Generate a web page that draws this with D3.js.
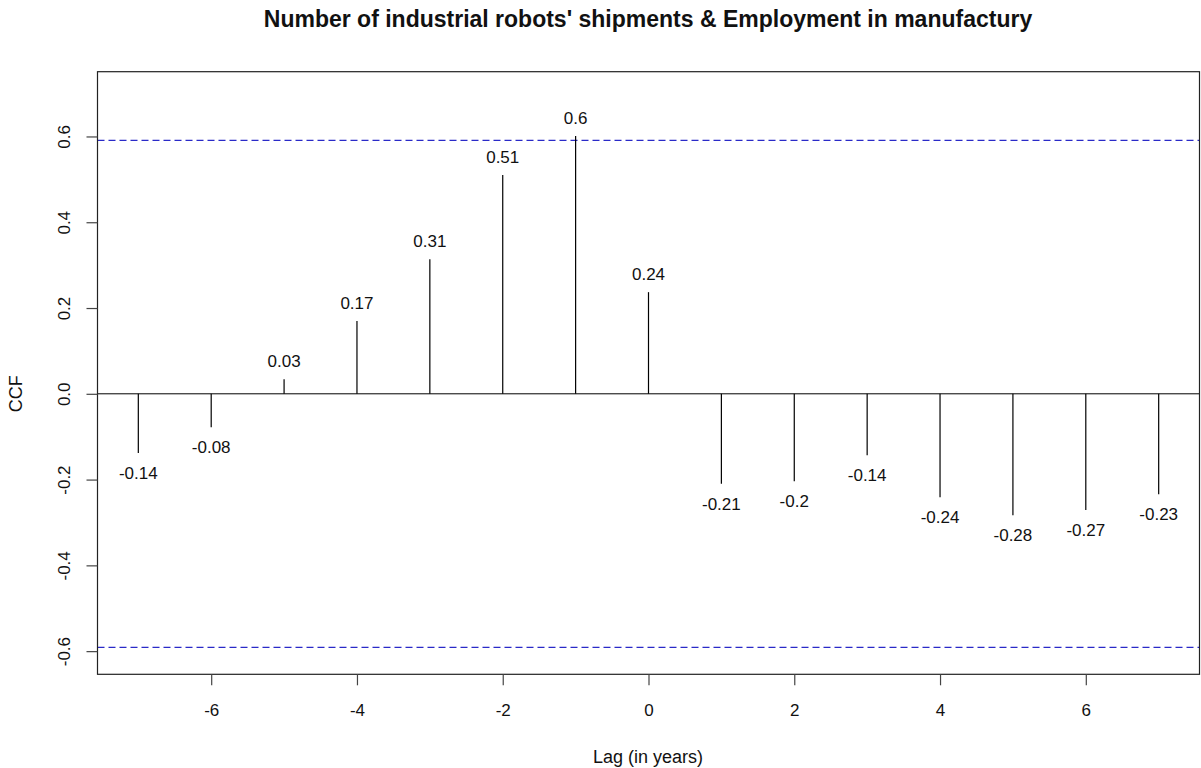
<!DOCTYPE html>
<html><head><meta charset="utf-8">
<script src="https://cdn.jsdelivr.net/npm/d3@7"></script>
<style>body{margin:0;background:#fff;} svg{display:block;font-family:"Liberation Sans",Arial,sans-serif;}</style>
</head><body>
<svg id="chart" width="1201" height="768"></svg>
<script>
const lags = [-7,-6,-5,-4,-3,-2,-1,0,1,2,3,4,5,6,7];
const ccfValues = [-0.138,-0.078,0.034,0.170,0.314,0.510,0.601,0.237,-0.210,-0.204,-0.143,-0.241,-0.283,-0.271,-0.234];
const ccfLabels = ["-0.14","-0.08","0.03","0.17","0.31","0.51","0.6","0.24","-0.21","-0.2","-0.14","-0.24","-0.28","-0.27","-0.23"];
const xTicks = [-6,-4,-2,0,2,4,6];
const yTicks = [-0.6,-0.4,-0.2,0.0,0.2,0.4,0.6];
const ciBound = 0.591;
const title = "Number of industrial robots' shipments & Employment in manufactury";
const xLabel = "Lag (in years)";
const yLabel = "CCF";

const svg = d3.select("#chart");
const L = 97.5, R = 1199.5, T = 71.7, B = 674.3;
const x = d3.scaleLinear().domain([-7.56, 7.56]).range([L, R]);
const y = d3.scaleLinear().domain([-0.654, 0.751]).range([B, T]);

// title
svg.append("text").attr("x", 648).attr("y", 27).attr("text-anchor","middle")
  .attr("font-weight","bold").attr("font-size", 23).attr("fill","#111").text(title);

// zero line
svg.append("line").attr("x1", L).attr("x2", R).attr("y1", y(0)).attr("y2", y(0))
  .attr("stroke","#000").attr("stroke-width",1);

// CI lines
[ciBound, -ciBound].forEach(v => {
  svg.append("line").attr("x1", L).attr("x2", R).attr("y1", y(v)).attr("y2", y(v))
    .attr("stroke","#2a2ac8").attr("stroke-width",1.2).attr("stroke-dasharray","7,4");
});

// spikes
svg.selectAll("line.spike").data(lags).enter().append("line").attr("class","spike")
  .attr("x1", d => x(d)).attr("x2", d => x(d))
  .attr("y1", y(0)).attr("y2", (d,i) => y(ccfValues[i]))
  .attr("stroke","#000").attr("stroke-width",1.2);

// labels
svg.selectAll("text.val").data(lags).enter().append("text").attr("class","val")
  .attr("x", d => x(d))
  .attr("y", (d,i) => ccfValues[i] >= 0 ? y(ccfValues[i]) - 12 : y(ccfValues[i]) + 26)
  .attr("text-anchor","middle").attr("font-size",17).attr("fill","#111")
  .text((d,i) => ccfLabels[i]);

// box
svg.append("rect").attr("x", L).attr("y", T).attr("width", R-L).attr("height", B-T)
  .attr("fill","none").attr("stroke","#222").attr("stroke-width",1.2);

// x axis
const xAxis = d3.axisBottom(x).tickValues(xTicks).tickSize(11).tickFormat(d3.format("d"));
const gx = svg.append("g").attr("transform", `translate(0,${B})`).call(xAxis);
gx.select(".domain").remove();
gx.selectAll(".tick line").attr("stroke","#444").attr("stroke-width",1.2);
gx.selectAll(".tick text").attr("font-size",17).attr("fill","#111")
  .attr("font-family","Liberation Sans, Arial, sans-serif")
  .attr("y", 42).attr("dy", 0)
  .text(d => d < 0 ? "-" + Math.abs(d) : d);

// y axis
const yAxis = d3.axisLeft(y).tickValues(yTicks).tickSize(11).tickFormat(d3.format(".1f"));
const gy = svg.append("g").attr("transform", `translate(${L},0)`).call(yAxis);
gy.select(".domain").remove();
gy.selectAll(".tick line").attr("stroke","#444").attr("stroke-width",1.2);
gy.selectAll(".tick text").attr("font-size",17).attr("fill","#111")
  .attr("font-family","Liberation Sans, Arial, sans-serif")
  .attr("text-anchor","middle").attr("x",0).attr("dy",0).attr("y",0)
  .attr("transform","translate(-27.5,0) rotate(-90)")
  .text(d => d < 0 ? "-" + Math.abs(d).toFixed(1) : d.toFixed(1));

// axis labels
svg.append("text").attr("x", 648).attr("y", 762.5).attr("text-anchor","middle")
  .attr("font-size",18).attr("fill","#111").text(xLabel);
svg.append("text").attr("transform", `translate(22,${y(0)}) rotate(-90)`).attr("text-anchor","middle")
  .attr("font-size",18).attr("fill","#111").text(yLabel);
</script>
</body></html>
